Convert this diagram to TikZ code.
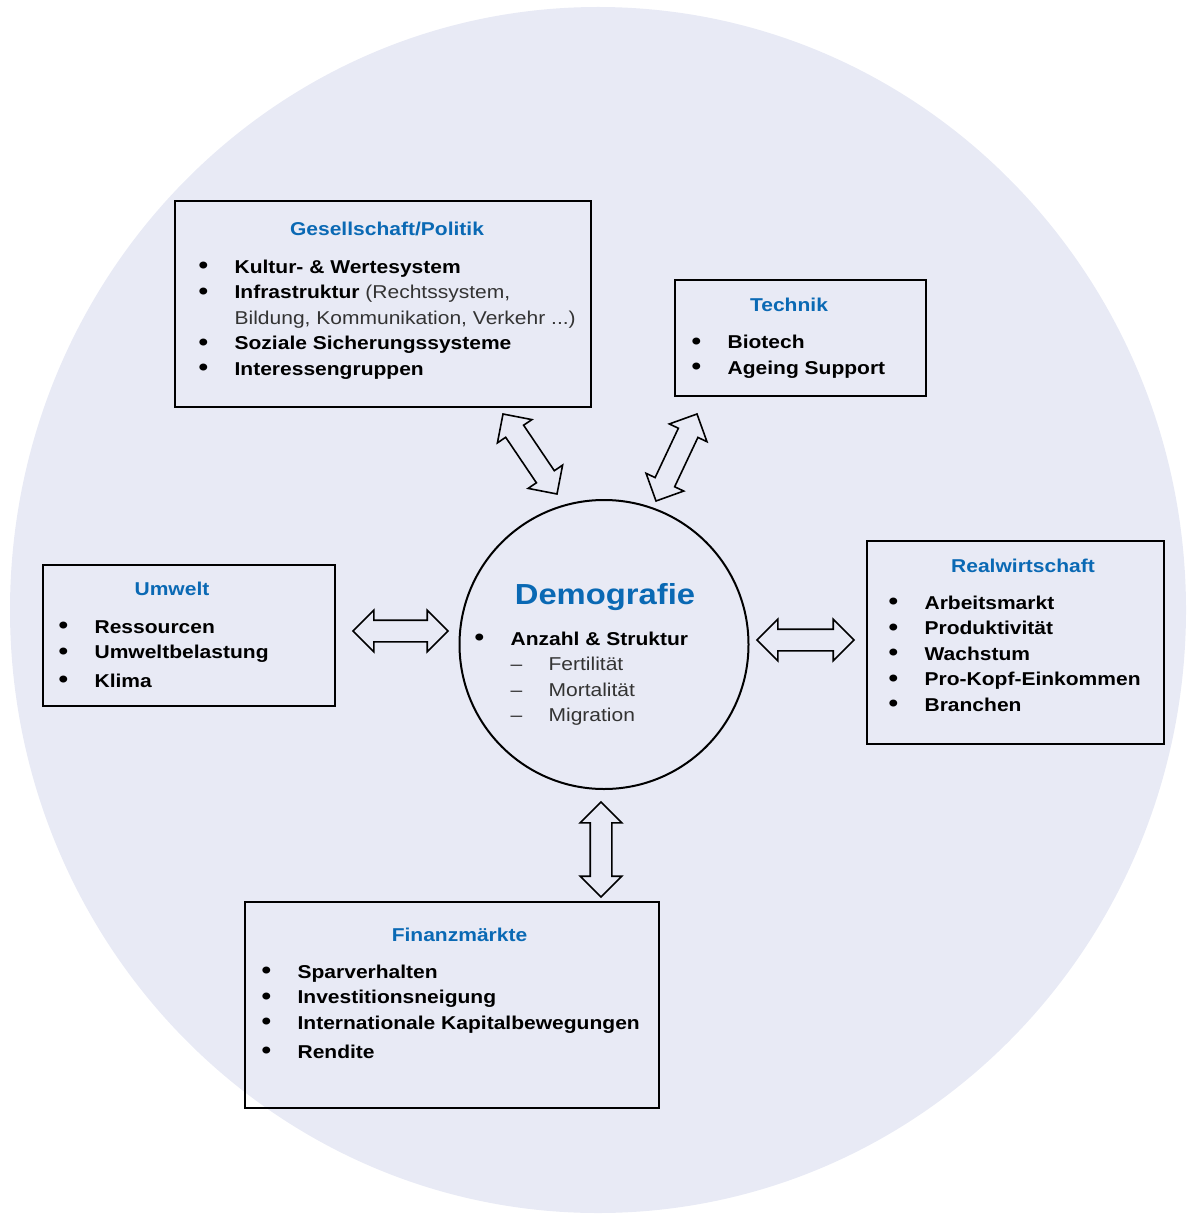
\documentclass[tikz,border=0pt]{standalone}
\usepackage{fontspec}
\setmainfont{Liberation Sans}[FakeStretch=1.13]
\usepackage{tikz}
\usetikzlibrary{
    positioning,
    calc,
    shapes.arrows
}

\definecolor{hgrund}{HTML}{E8EAF5}
\definecolor{titelblau}{HTML}{0A69B4}
\definecolor{grautext}{HTML}{333333}

\newcommand{\pkt}{\makebox[36pt][l]{\raisebox{-0.6pt}{\scalebox{1.3}{\textbullet}}}}
\newcommand{\strich}{\makebox[38pt][l]{\textendash}}
\newcommand{\duenn}[1]{{\mdseries\color{grautext}#1}}
% double block arrow: name, from, to
\newcommand{\dpfeil}[3]{%
  \path let \p1=($(#3)-(#2)$), \n1={atan2(\y1,\x1)}, \n2={veclen(\x1,\y1)} in
    node[pfeil, rotate=\n1, minimum height=\n2] (#1) at ($(#2)!0.5!(#3)$) {\rule{0pt}{20pt}};}

\tikzset{
  kasten/.style={draw, line width=2pt, inner sep=0pt},
  titel/.style={anchor=base, inner sep=0pt, text=titelblau,
                font=\fontsize{18.6}{25.5}\selectfont\bfseries},
  % anchor sits on the baseline of the last line
  liste/.style={anchor=base west, inner sep=0pt, align=left,
                font=\fontsize{18.6}{25.5}\selectfont\bfseries},
  pfeil/.style={double arrow, draw, line width=1.6pt, inner sep=0pt,
                double arrow head extend=10pt}
}

\begin{document}
\begin{tikzpicture}[x=1pt,y=-1pt]
  \useasboundingbox (0,0) rectangle (1186,1214);
  \fill[hgrund] (598,610) ellipse [x radius=588, y radius=603];

  % centre
  \node[circle, draw, line width=2pt, minimum size=289pt, inner sep=0pt] (demografie) at (604,644.5) {};
  \node[titel, font=\fontsize{29}{30}\selectfont\bfseries] (t-demo) at (605,604) {Demografie};
  \node[liste] (l-demo) at (474.4,721.7)
    {\pkt Anzahl \& Struktur\\
     \hspace*{36pt}\duenn{\strich Fertilität}\\
     \hspace*{36pt}\duenn{\strich Mortalität}\\
     \hspace*{36pt}\duenn{\strich Migration}};

  % boxes around
  \node[kasten, minimum width=416pt, minimum height=206pt] (gesellschaft) at (383,304) {};
  \node[titel] (t-ges) at (387,236) {Gesellschaft/Politik};
  \node[liste] (l-ges) at (198.4,375)
    {\pkt Kultur- \& Wertesystem\\
     \pkt Infrastruktur \duenn{(Rechtssystem,}\\
     \hspace*{36pt}\duenn{Bildung, Kommunikation, Verkehr ...)}\\
     \pkt Soziale Sicherungssysteme\\
     \pkt Interessengruppen};

  \node[kasten, minimum width=251pt, minimum height=116pt] (technik) at (800.5,338) {};
  \node[titel] (t-tech) at (789,312) {Technik};
  \node[liste] (l-tech) at (691.4,374)
    {\pkt Biotech\\
     \pkt Ageing Support};

  \node[kasten, minimum width=292pt, minimum height=141pt] (umwelt) at (189,635.5) {};
  \node[titel] (t-umw) at (172,595) {Umwelt};
  \node[liste] (l-umw) at (58.4,687)
    {\pkt Ressourcen\\
     \pkt Umweltbelastung\\[3pt]
     \pkt Klima};

  \node[kasten, minimum width=297pt, minimum height=203pt] (realwirtschaft) at (1015.5,642.5) {};
  \node[titel] (t-real) at (1023,572) {Realwirtschaft};
  \node[liste] (l-real) at (888.4,711)
    {\pkt Arbeitsmarkt\\
     \pkt Produktivität\\
     \pkt Wachstum\\
     \pkt Pro-Kopf-Einkommen\\
     \pkt Branchen};

  \node[kasten, minimum width=414pt, minimum height=206pt] (finanz) at (452,1005) {};
  \node[titel] (t-fin) at (459.5,941) {Finanzmärkte};
  \node[liste] (l-fin) at (261.4,1058)
    {\pkt Sparverhalten\\
     \pkt Investitionsneigung\\
     \pkt Internationale Kapitalbewegungen\\[3.5pt]
     \pkt Rendite};

  % arrow ends
  \coordinate (ges-a) at (503,414);  \coordinate (ges-b) at (557,494);
  \coordinate (tech-a) at (697,414); \coordinate (tech-b) at (656,501);
  \coordinate (umw-a) at (353,631);  \coordinate (umw-b) at (448,631);
  \coordinate (real-a) at (854,640); \coordinate (real-b) at (757,640);
  \coordinate (fin-a) at (601,897);  \coordinate (fin-b) at (601,802);

  \dpfeil{p-ges}{ges-a}{ges-b}
  \dpfeil{p-tech}{tech-a}{tech-b}
  \dpfeil{p-umw}{umw-a}{umw-b}
  \dpfeil{p-real}{real-a}{real-b}
  \dpfeil{p-fin}{fin-a}{fin-b}
\end{tikzpicture}
\end{document}
